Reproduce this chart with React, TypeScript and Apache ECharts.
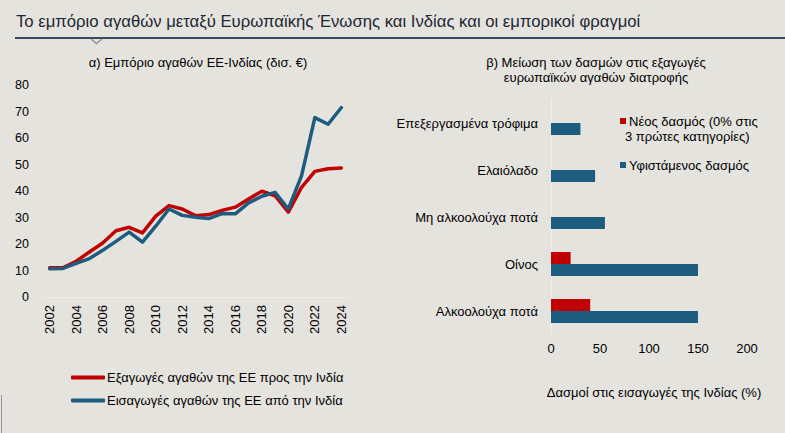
import React, { useEffect, useRef } from "react";
import * as echarts from "echarts";

// EU–India trade in goods, € bn
const years = [
  "2002", "2003", "2004", "2005", "2006", "2007", "2008", "2009", "2010", "2011", "2012", "2013",
  "2014", "2015", "2016", "2017", "2018", "2019", "2020", "2021", "2022", "2023", "2024",
];
const euExports = [
  11, 11, 13.5, 17, 20.4, 25, 26.3, 24.2, 30.5, 34.5, 33.2, 30.7,
  31.1, 32.7, 33.9, 37, 39.9, 38.2, 32, 41.4, 47.4, 48.4, 48.7,
];
const euImports = [
  10.7, 10.8, 12.7, 14.5, 17.6, 21, 24.5, 20.7, 26.7, 33.2, 30.8, 30.1,
  29.6, 31.5, 31.4, 35.5, 38, 39.5, 33.2, 45.8, 67.7, 65.2, 71.5,
];

// Indian import tariffs on European food products, %
const foodCategories = [
  "Επεξεργασμένα τρόφιμα",
  "Ελαιόλαδο",
  "Μη αλκοολούχα ποτά",
  "Οίνος",
  "Αλκοολούχα ποτά",
];
const newTariff = [0, 0, 0, 20, 40];
const currentTariff = [30, 45, 55, 150, 150];

const tradeTicks = [0, 80, 10];
const tariffTicks = [0, 200, 50];

const RED = "#c00000";
const BLUE = "#1d5c7e";
const BG = "#e5e3de";
const FONT = "'Liberation Sans', Arial, sans-serif";

export default function App() {
  const ref = useRef<HTMLDivElement>(null);

  useEffect(() => {
    if (!ref.current) return;
    const chart = echarts.init(ref.current, null, { renderer: "svg" });
    const num = { fontFamily: FONT, fontSize: 12, color: "#000" };
    const txt = { fontFamily: FONT, fontSize: 13, color: "#000" };

    chart.setOption({
      animation: false,
      backgroundColor: BG,
      textStyle: { fontFamily: FONT },
      title: [
        {
          text: "Το εμπόριο αγαθών μεταξύ Ευρωπαϊκής Ένωσης και Ινδίας και οι εμπορικοί φραγμοί",
          left: 11,
          top: 8,
          textStyle: {
            fontFamily: "'Liberation Sans Narrow', 'Arial Narrow', sans-serif",
            fontSize: 16.7,
            fontWeight: "normal",
            color: "#1e2733",
          },
        },
        {
          text: "α) Εμπόριο αγαθών ΕΕ-Ινδίας (δισ. €)",
          left: 193,
          top: 51,
          textAlign: "center",
          textStyle: { ...txt, fontWeight: "normal" },
        },
        {
          text: "β) Μείωση των δασμών στις εξαγωγές\nευρωπαϊκών αγαθών διατροφής",
          left: 591,
          top: 50,
          textAlign: "center",
          textStyle: { ...txt, fontWeight: "normal", lineHeight: 15 },
        },
      ],
      legend: {
        data: [
          "Εξαγωγές αγαθών της ΕΕ προς την Ινδία",
          "Εισαγωγές αγαθών της ΕΕ από την Ινδία",
        ],
        orient: "vertical",
        left: 66,
        top: 366,
        icon: "roundRect",
        itemWidth: 34,
        itemHeight: 4,
        itemGap: 10,
        textStyle: { ...txt, padding: [0, 0, 0, -3] },
      },
      grid: [
        { left: 43, top: 85, width: 305, height: 212 },
        { left: 551, top: 99.5, width: 196, height: 235 },
      ],
      xAxis: [
        {
          gridIndex: 0,
          type: "category",
          data: years,
          boundaryGap: true,
          axisLine: { lineStyle: { color: "#eeeeec", width: 1 } },
          axisTick: { show: false },
          axisLabel: { ...txt, rotate: 90, interval: 1, margin: 8 },
        },
        {
          gridIndex: 1,
          type: "value",
          min: tariffTicks[0],
          max: tariffTicks[1],
          interval: tariffTicks[2],
          splitLine: { show: false },
          axisLine: { show: false },
          axisTick: { show: false },
          axisLabel: { ...txt, margin: 7 },
          name: "Δασμοί στις εισαγωγές της Ινδίας (%)",
          nameLocation: "middle",
          nameGap: 51,
          nameTextStyle: { ...txt, padding: [0, 0, 0, 10] },
        },
      ],
      yAxis: [
        {
          gridIndex: 0,
          type: "value",
          min: tradeTicks[0],
          max: tradeTicks[1],
          interval: tradeTicks[2],
          splitLine: { show: false },
          axisLine: { show: false },
          axisTick: { show: false },
          axisLabel: { ...num, fontSize: 12.5, margin: 14 },
        },
        {
          gridIndex: 1,
          type: "category",
          data: foodCategories,
          inverse: true,
          axisLine: { show: true, lineStyle: { color: "#eeeeec", width: 1 } },
          axisTick: { show: false },
          axisLabel: { ...txt, margin: 13 },
        },
      ],
      series: [
        {
          name: "Εξαγωγές αγαθών της ΕΕ προς την Ινδία",
          type: "line",
          xAxisIndex: 0,
          yAxisIndex: 0,
          data: euExports,
          showSymbol: false,
          symbol: "none",
          color: RED,
          lineStyle: { color: RED, width: 3.5, cap: "round", join: "round" },
        },
        {
          name: "Εισαγωγές αγαθών της ΕΕ από την Ινδία",
          type: "line",
          xAxisIndex: 0,
          yAxisIndex: 0,
          data: euImports,
          showSymbol: false,
          symbol: "none",
          color: BLUE,
          lineStyle: { color: BLUE, width: 3.5, cap: "round", join: "round" },
        },
        {
          name: "Νέος δασμός (0% στις 3 πρώτες κατηγορίες)",
          type: "bar",
          xAxisIndex: 1,
          yAxisIndex: 1,
          data: newTariff,
          barWidth: 12,
          barGap: "0%",
          itemStyle: { color: RED },
        },
        {
          name: "Υφιστάμενος δασμός",
          type: "bar",
          xAxisIndex: 1,
          yAxisIndex: 1,
          data: currentTariff,
          barWidth: 12,
          barGap: "0%",
          itemStyle: { color: BLUE },
        },
      ],
      graphic: [
        // header rule with its small pointer
        {
          type: "line",
          shape: { x1: 15, y1: 38, x2: 785, y2: 38 },
          style: { stroke: "#3a485b", lineWidth: 2 },
        },
        {
          type: "polyline",
          shape: { points: [[91, 39], [96.5, 43.5], [102, 39]] },
          style: { stroke: "#8a97a6", lineWidth: 1.5, fill: null },
        },
        // tariff legend
        { type: "rect", shape: { x: 620, y: 118, width: 6, height: 6 }, style: { fill: RED } },
        {
          type: "text",
          x: 629,
          y: 121,
          style: { text: "Νέος δασμός (0% στις", font: `13px ${FONT}`, fill: "#000", verticalAlign: "middle" },
        },
        {
          type: "text",
          x: 625,
          y: 136,
          style: { text: "3 πρώτες κατηγορίες)", font: `13px ${FONT}`, fill: "#000", verticalAlign: "middle" },
        },
        { type: "rect", shape: { x: 620, y: 162, width: 6, height: 6 }, style: { fill: BLUE } },
        {
          type: "text",
          x: 629,
          y: 165,
          style: { text: "Υφιστάμενος δασμός", font: `13px ${FONT}`, fill: "#000", verticalAlign: "middle" },
        },
        // left frame edge
        {
          type: "line",
          shape: { x1: 1.5, y1: 395, x2: 1.5, y2: 433 },
          style: { stroke: "#8f9599", lineWidth: 1 },
        },
      ],
    });

    return () => chart.dispose();
  }, []);

  return (
    <div
      ref={ref}
      style={{ position: "fixed", left: 0, top: 0, width: 785, height: 433 }}
    />
  );
}
